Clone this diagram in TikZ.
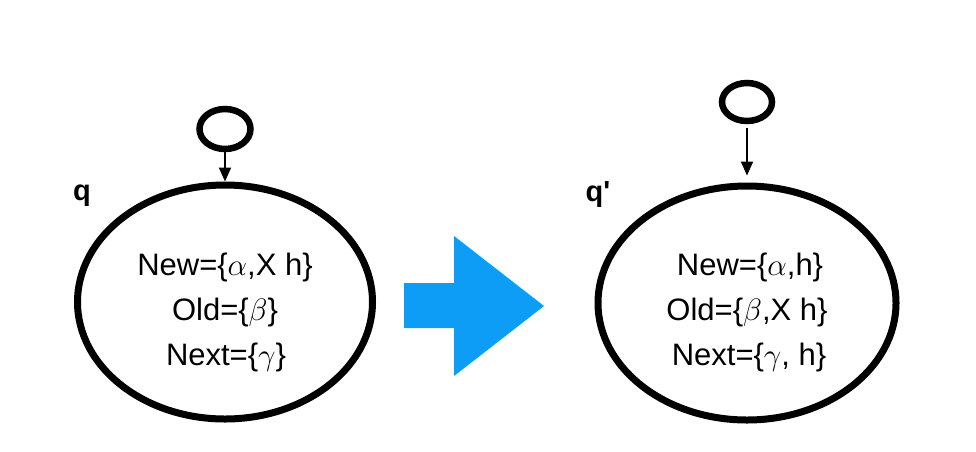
\RequirePackage{fix-cm}
\documentclass[tikz,border=0pt]{standalone}
\usepackage{fontspec}
\setmainfont{Liberation Sans}
\usetikzlibrary{shapes.geometric,arrows.meta}
\definecolor{arrowblue}{RGB}{14,157,246}

\begin{document}
\begin{tikzpicture}[x=1pt,y=-1pt,font=\fontsize{31}{40}\selectfont,
  state/.style={draw,ellipse,line width=7pt,inner sep=0pt},
  init/.style={draw,ellipse,line width=6.5pt,inner sep=0pt,minimum width=51pt,minimum height=40pt},
  trans/.style={line width=2pt,-{Triangle[length=14pt,width=12pt]}},
  setrow/.style={anchor=base,inner sep=0pt}]
\useasboundingbox (0,0) rectangle (976,451);

% state q before the step
\node[state,minimum width=295pt,minimum height=234pt] (q) at (225,302) {};
\node[init] (initq) at (225,129) {};
\draw [trans] (initq.south) -- (q.north);
\node[inner sep=0pt,font=\fontsize{29}{35}\selectfont\bfseries] (labq) at (82,196) {q};
\node[setrow] (newq) at (225,275) {New=\{$\alpha$,X h\}};
\node[setrow] (oldq) at (225,320) {Old=\{$\beta$\}};
\node[setrow] (nextq) at (226,365) {Next=\{$\gamma$\}};

% big blue arrow
\fill [arrowblue] (404,283) -- (454,283) -- (454,236) -- (544,306) -- (454,376) -- (454,328) -- (404,328) -- cycle;

% state q' after the step
\node[state,minimum width=298pt,minimum height=234pt] (qq) at (747,303) {};
\node[init,minimum width=50pt,minimum height=38pt] (initqq) at (747,102) {};
\draw [trans,shorten <=4pt,shorten >=7pt] (initqq.south) -- (qq.north);
\node[inner sep=0pt,font=\fontsize{29}{35}\selectfont\bfseries] (labqq) at (598,195) {q\textquotesingle};
\node[setrow] (newqq) at (750,275) {New=\{$\alpha$,h\}};
\node[setrow] (oldqq) at (747,320) {Old=\{$\beta$,X h\}};
\node[setrow] (nextqq) at (749,365) {Next=\{$\gamma$, h\}};

\end{tikzpicture}
\end{document}
